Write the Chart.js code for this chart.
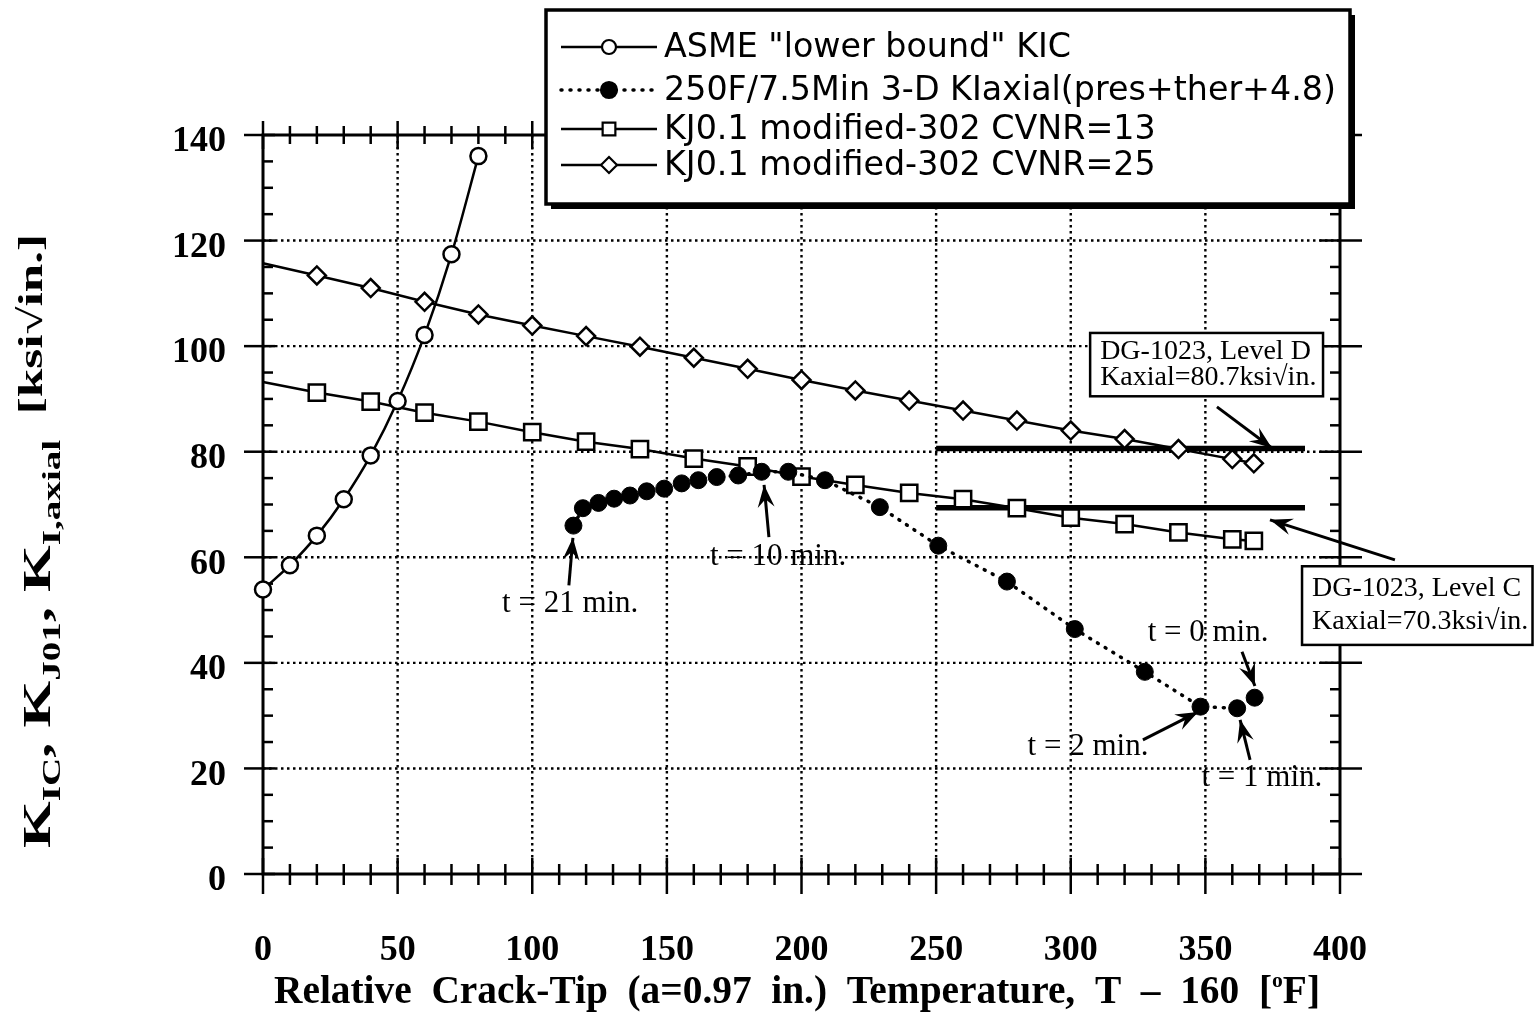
<!DOCTYPE html>
<html>
<head>
<meta charset="utf-8">
<script src="https://cdn.jsdelivr.net/npm/chart.js@4.4.1/dist/chart.umd.min.js"></script>
<style>
  html, body { margin: 0; padding: 0; background: #fff; }
  #wrap { width: 1535px; height: 1017px; }
</style>
</head>
<body>
<div id="wrap"><canvas id="chart" width="1535" height="1017"></canvas></div>
<script>
// ASME lower bound KIC
const asmeT = [0, 10, 20, 30, 40, 50, 60, 70, 80];
const asmeK = [53.9, 58.5, 64.1, 71.0, 79.3, 89.6, 102.1, 117.4, 136.0];

// 250F/7.5Min 3-D KIaxial (t = 21 min ... t = 0 min)
const kiT = [115.3, 118.8, 124.6, 130.4, 136.3, 142.5, 149.0, 155.5, 161.7, 168.5, 176.5,
             185.2, 195.1, 208.7, 229.1, 250.8, 276.3, 301.5, 327.5, 348.2, 361.8, 368.3];
const kiK = [66.0, 69.3, 70.3, 71.1, 71.7, 72.5, 73.0, 74.0, 74.6, 75.2, 75.5,
             76.2, 76.2, 74.6, 69.5, 62.2, 55.4, 46.4, 38.3, 31.7, 31.4, 33.4];

// KJ0.1 modified-302 curves
const cvnT = [0, 20, 40, 60, 80, 100, 120, 140, 160, 180, 200, 220, 240, 260, 280, 300, 320, 340, 360, 368];
const cvn13K = [93.2, 91.2, 89.5, 87.4, 85.7, 83.7, 81.9, 80.5, 78.7, 77.2, 75.3, 73.7, 72.2, 71.0, 69.3, 67.5, 66.3, 64.7, 63.4, 63.1];
const cvn25K = [115.7, 113.4, 111.0, 108.4, 106.0, 103.9, 101.9, 99.9, 97.8, 95.7, 93.6, 91.6, 89.7, 87.8, 85.9, 84.0, 82.4, 80.5, 78.6, 77.8];

// DG-1023 levels
const levelT = [250, 387];
const levelD = [80.6, 80.6];
const levelC = [69.4, 69.4];

const xTicks = [0, 50, 100, 150, 200, 250, 300, 350, 400];
const yTicks = [0, 20, 40, 60, 80, 100, 120, 140];

const seriesNames = [
  'ASME "lower bound" KIC',
  '250F/7.5Min 3-D KIaxial(pres+ther+4.8)',
  'KJ0.1 modified-302 CVNR=13',
  'KJ0.1 modified-302 CVNR=25'
];

// time notes: text, text position, arrow tail, arrow tip (data units)
const timeNotes = [
  { text: 't = 21 min.', at: [114.1, 51.2], from: [113.6, 54.7], to: [115.1, 63.7] },
  { text: 't = 10 min.', at: [191.3, 60.1], from: [187.9, 63.8], to: [186.1, 73.7] },
  { text: 't = 0 min.',  at: [351.0, 45.7], from: [363.6, 42.1], to: [368.4, 35.6] },
  { text: 't = 2 min.',  at: [306.4, 24.1], from: [326.8, 25.4], to: [347.3, 30.7] },
  { text: 't = 1 min.',  at: [371.0, 18.2], from: [366.6, 21.6], to: [362.9, 29.2] }
];
const levelNotes = [
  { lines: ['DG-1023, Level D', 'Kaxial=80.7ksi\u221Ain.'], box: [307.2, 102.5, 393.7, 90.5], from: [354.3, 88.5], to: [374.7, 80.7] },
  { lines: ['DG-1023, Level C', 'Kaxial=70.3ksi\u221Ain.'], box: [385.9, 58.3, 471.5, 43.4], from: [420.4, 59.5], to: [374.0, 67.1] }
];

const pts = (xs, ys) => xs.map((x, i) => ({ x: x, y: ys[i] }));
const serif = '"Liberation Serif", "Times New Roman", serif';

function line(ctx, x1, y1, x2, y2) {
  ctx.beginPath(); ctx.moveTo(x1, y1); ctx.lineTo(x2, y2); ctx.stroke();
}

function arrow(ctx, x1, y1, x2, y2) {
  const ang = Math.atan2(y2 - y1, x2 - x1), L = 24, sp = 0.36;
  ctx.lineWidth = 3;
  line(ctx, x1, y1, x2, y2);
  ctx.beginPath();
  ctx.moveTo(x2 - L * Math.cos(ang - sp), y2 - L * Math.sin(ang - sp));
  ctx.lineTo(x2, y2);
  ctx.lineTo(x2 - L * Math.cos(ang + sp), y2 - L * Math.sin(ang + sp));
  ctx.lineTo(x2 - L * 0.6 * Math.cos(ang), y2 - L * 0.6 * Math.sin(ang));
  ctx.closePath();
  ctx.fill();
}

// draws runs of [text, font, dy] stretched to a target length
function drawRuns(ctx, runs, target) {
  let total = 0;
  const w = runs.map(r => { ctx.font = r[1]; const m = ctx.measureText(r[0]).width; total += m; return m; });
  const k = target / total;
  ctx.scale(k, 1);
  let pos = -total / 2;
  runs.forEach((r, i) => { ctx.font = r[1]; ctx.fillText(r[0], pos, r[2]); pos += w[i]; });
}

function drawLegend(chart, ctx) {
  const x0 = 546, y0 = 10, w = 804, h = 194;
  ctx.fillStyle = '#000';
  ctx.fillRect(x0 + 5, y0 + 5, w, h);
  ctx.fillStyle = '#fff';
  ctx.fillRect(x0, y0, w, h);
  ctx.strokeStyle = '#000';
  ctx.lineWidth = 3.5;
  ctx.strokeRect(x0, y0, w, h);

  const rows = [47, 90, 129, 165];
  const font = '34px "DejaVu Sans", sans-serif';
  ctx.font = font;
  const k = 672 / ctx.measureText(seriesNames[1]).width;
  rows.forEach((ry, i) => {
    const ds = chart.data.datasets[i];
    ctx.save();
    ctx.strokeStyle = '#000';
    ctx.lineWidth = ds.borderWidth;
    ctx.setLineDash(ds.borderDash || []);
    ctx.lineCap = ds.borderCapStyle || 'butt';
    line(ctx, 561, ry, 657, ry);
    ctx.restore();
    ctx.save();
    ctx.fillStyle = ds.pointBackgroundColor;
    ctx.strokeStyle = '#000';
    ctx.lineWidth = 2.2;
    Chart.helpers.drawPoint(ctx, { pointStyle: ds.pointStyle, radius: ds.legendRadius, borderWidth: 2.2, rotation: 0 }, 609, ry);
    ctx.restore();
    ctx.save();
    ctx.fillStyle = '#000';
    ctx.font = font;
    ctx.textBaseline = 'middle';
    ctx.translate(664, ry + 1);
    ctx.scale(k, 1);
    ctx.fillText(ds.label, 0, 0);
    ctx.restore();
  });
}

const decor = {
  id: 'decor',
  beforeDatasetsDraw(chart) {
    const { ctx, chartArea: a, scales: { x, y } } = chart;
    ctx.save();
    ctx.strokeStyle = '#000';
    // dotted grid
    ctx.lineWidth = 2.4;
    ctx.setLineDash([2.5, 3.5]);
    xTicks.slice(1, -1).forEach(v => { const p = x.getPixelForValue(v); line(ctx, p, a.top, p, a.bottom); });
    yTicks.slice(1, -1).forEach(v => { const p = y.getPixelForValue(v); line(ctx, a.left, p, a.right, p); });
    ctx.setLineDash([]);
    // frame
    ctx.lineWidth = 3;
    ctx.strokeRect(a.left, a.top, a.right - a.left, a.bottom - a.top);
    // tick marks, minor every 10 on x and 5 on y
    ctx.lineWidth = 2.5;
    for (let v = x.min; v <= x.max; v += 10) {
      const p = x.getPixelForValue(v), major = v % 50 === 0;
      line(ctx, p, a.bottom - (major ? 16 : 10), p, a.bottom + (major ? 20 : 11));
      line(ctx, p, a.top - (major ? 14 : 9), p, a.top + (major ? 14 : 9));
    }
    for (let v = y.min; v <= y.max; v += 5) {
      const p = y.getPixelForValue(v), major = v % 20 === 0;
      if (major) {
        line(ctx, a.left - 19, p, a.left + 12, p);
        line(ctx, a.right - 20, p, a.right + 22, p);
      } else {
        line(ctx, a.left, p, a.left + 10, p);
        line(ctx, a.right - 10, p, a.right, p);
      }
    }
    ctx.restore();
  },
  afterDatasetsDraw(chart) {
    const { ctx, scales: { x, y } } = chart;
    const X = v => x.getPixelForValue(v), Y = v => y.getPixelForValue(v);
    ctx.save();
    ctx.fillStyle = '#000';
    ctx.strokeStyle = '#000';

    // time notes
    ctx.font = '31px ' + serif;
    ctx.textAlign = 'center';
    ctx.textBaseline = 'middle';
    timeNotes.forEach(n => {
      ctx.fillText(n.text, X(n.at[0]), Y(n.at[1]));
      arrow(ctx, X(n.from[0]), Y(n.from[1]), X(n.to[0]), Y(n.to[1]));
    });

    // level boxes
    levelNotes.forEach(n => {
      const bx = X(n.box[0]), by = Y(n.box[1]), bw = X(n.box[2]) - bx, bh = Y(n.box[3]) - by;
      ctx.fillStyle = '#fff';
      ctx.fillRect(bx, by, bw, bh);
      ctx.lineWidth = 2.5;
      ctx.strokeRect(bx, by, bw, bh);
      ctx.fillStyle = '#000';
      ctx.font = '28px ' + serif;
      ctx.textAlign = 'left';
      ctx.fillText(n.lines[0], bx + 10, by + bh * 0.29);
      ctx.fillText(n.lines[1], bx + 10, by + bh * 0.71);
      arrow(ctx, X(n.from[0]), Y(n.from[1]), X(n.to[0]), Y(n.to[1]));
    });

    drawLegend(chart, ctx);

    // y axis title with subscripts
    ctx.save();
    ctx.fillStyle = '#000';
    ctx.textAlign = 'left';
    ctx.textBaseline = 'alphabetic';
    ctx.translate(38, 541);
    ctx.rotate(-Math.PI / 2);
    const big = 'bold 40px ' + serif, sub = 'bold 26px ' + serif;
    drawRuns(ctx, [
      ['K', big, 12], ['IC', sub, 22], [', K', big, 12], ['J01', sub, 22],
      [', K', big, 12], ['I,axial', sub, 22], ['  [ksi\u221Ain.]', 'bold 34px ' + serif, 4]
    ], 614);
    ctx.restore();

    // x axis title
    ctx.save();
    ctx.fillStyle = '#000';
    ctx.textAlign = 'left';
    ctx.textBaseline = 'alphabetic';
    ctx.translate(797, 1003);
    drawRuns(ctx, [
      ['Relative  Crack-Tip  (a=0.97  in.)  Temperature,  T  \u2013  160  [', 'bold 40px ' + serif, 0],
      ['o', 'bold 22px ' + serif, -16], ['F]', 'bold 40px ' + serif, 0]
    ], 1046);
    ctx.restore();

    ctx.restore();
  }
};

new Chart(document.getElementById('chart'), {
  type: 'scatter',
  data: {
    datasets: [
      {
        label: seriesNames[0], data: pts(asmeT, asmeK), showLine: true,
        borderColor: '#000', borderWidth: 2.5, cubicInterpolationMode: 'monotone',
        pointStyle: 'circle', pointRadius: 8, legendRadius: 7, pointBorderWidth: 2.5,
        pointBackgroundColor: '#fff', pointBorderColor: '#000', clip: false
      },
      {
        label: seriesNames[1], data: pts(kiT, kiK), showLine: true,
        borderColor: '#000', borderWidth: 3.5, borderDash: [1, 8], borderCapStyle: 'round',
        pointStyle: 'circle', pointRadius: 8.5, legendRadius: 8, pointBorderWidth: 1,
        pointBackgroundColor: '#000', pointBorderColor: '#000', clip: false
      },
      {
        label: seriesNames[2], data: pts(cvnT, cvn13K), showLine: true,
        borderColor: '#000', borderWidth: 2.5,
        pointStyle: 'rect', pointRadius: cvnT.map((t, i) => i === 0 ? 0 : 11.5), legendRadius: 9,
        pointBorderWidth: 2.5, pointBackgroundColor: '#fff', pointBorderColor: '#000', clip: false
      },
      {
        label: seriesNames[3], data: pts(cvnT, cvn25K), showLine: true,
        borderColor: '#000', borderWidth: 2.5,
        pointStyle: 'rectRot', pointRadius: cvnT.map((t, i) => i === 0 ? 0 : 9), legendRadius: 8,
        pointBorderWidth: 2.5, pointBackgroundColor: '#fff', pointBorderColor: '#000', clip: false
      },
      {
        label: 'Level D', data: pts(levelT, levelD), showLine: true,
        borderColor: '#000', borderWidth: 5.5, pointRadius: 0, clip: false
      },
      {
        label: 'Level C', data: pts(levelT, levelC), showLine: true,
        borderColor: '#000', borderWidth: 5.5, pointRadius: 0, clip: false
      }
    ]
  },
  options: {
    responsive: false,
    devicePixelRatio: 1,
    animation: false,
    events: [],
    layout: { padding: { top: 135, right: 195, left: 0, bottom: 0 } },
    plugins: { legend: { display: false }, tooltip: { enabled: false } },
    scales: {
      x: {
        type: 'linear', min: 0, max: 400,
        grid: { display: false }, border: { display: false },
        afterBuildTicks: s => { s.ticks = xTicks.map(v => ({ value: v })); },
        afterFit: s => { s.height = 143; },
        ticks: { color: '#000', padding: 47, maxRotation: 0, font: { family: serif, size: 36, weight: 'bold' } }
      },
      y: {
        type: 'linear', min: 0, max: 140,
        grid: { display: false }, border: { display: false },
        afterBuildTicks: s => { s.ticks = yTicks.map(v => ({ value: v })); },
        afterFit: s => { s.width = 263; },
        ticks: { color: '#000', padding: 29, labelOffset: 7, font: { family: serif, size: 36, weight: 'bold' } }
      }
    }
  },
  plugins: [decor]
});
</script>
</body>
</html>
